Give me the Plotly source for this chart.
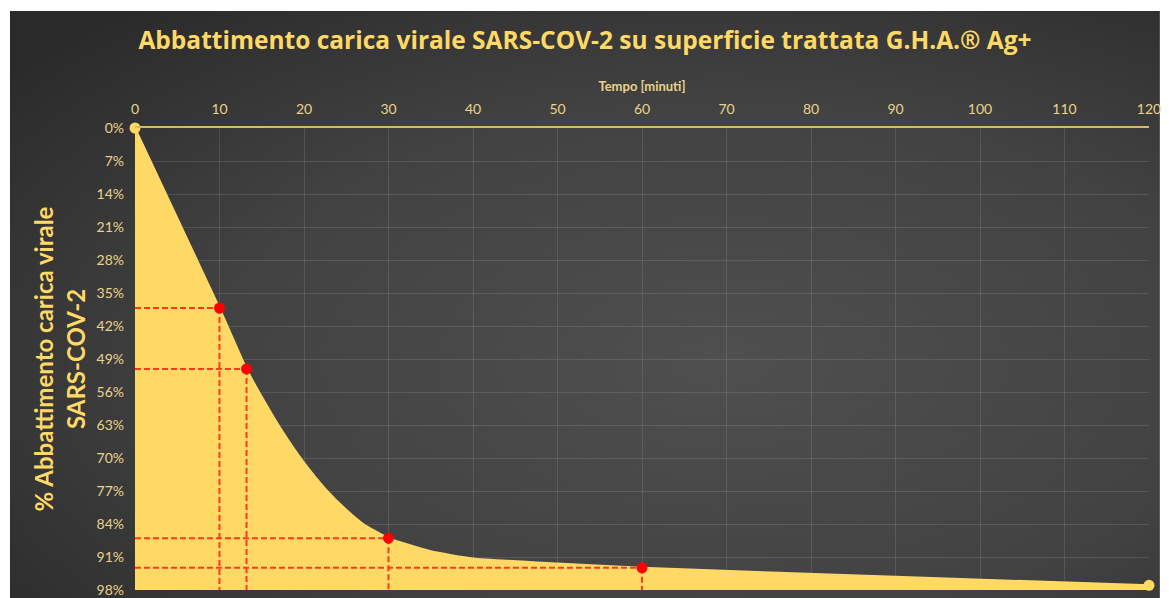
import plotly.graph_objects as go

# ---------------- data ----------------
curve_x = [0, 10, 13.2, 15, 17.5, 20, 22.5, 25, 27, 30, 35, 40, 50, 60, 90, 120]
curve_y = [0, 38.2, 51.1, 57, 64.5, 71, 76.5, 81, 84, 87, 89.8, 91.3, 92.4, 93.3, 95.2, 97]

red_x = [10, 13.2, 30, 60]
red_y = [38.2, 51.1, 87, 93.3]

end_x = [0, 120]
end_y = [0, 97]

x_ticks = list(range(0, 121, 10))
y_ticks = list(range(0, 99, 7))
y_labels = [f"{v}%" for v in y_ticks]
y_bottom = 98

title_text = "Abbattimento carica virale SARS-COV-2 su superficie trattata G.H.A.® Ag+"
x_title = "Tempo [minuti]"
y_title = "% Abbattimento carica virale<br>SARS-COV-2"

GOLD = "#FFD966"
LABEL = "#E9D38C"
RED = "#FF0000"
DASH = "#FF3B1F"
FONT = "Lato, Open Sans, sans-serif"

fig = go.Figure()

# baseline for fill
fig.add_trace(go.Scatter(x=[curve_x[0], curve_x[-1]], y=[y_bottom, y_bottom], mode="lines",
                         line=dict(width=0, color=GOLD), hoverinfo="skip", showlegend=False))
fig.add_trace(go.Scatter(x=curve_x, y=curve_y, mode="lines", fill="tonexty", fillcolor=GOLD,
                         line=dict(color=GOLD, width=2, shape="spline", smoothing=0.5),
                         showlegend=False))

# dashed guide lines
for xv, yv in zip(red_x, red_y):
    fig.add_trace(go.Scatter(x=[0, xv], y=[yv, yv], mode="lines",
                             line=dict(color=DASH, width=2, dash="6px,3px"),
                             showlegend=False, hoverinfo="skip"))
    fig.add_trace(go.Scatter(x=[xv, xv], y=[yv, y_bottom], mode="lines",
                             line=dict(color=DASH, width=2, dash="6px,3px"),
                             showlegend=False, hoverinfo="skip"))

fig.add_trace(go.Scatter(x=end_x, y=end_y, mode="markers",
                         marker=dict(color=GOLD, size=11), cliponaxis=False, showlegend=False))
fig.add_trace(go.Scatter(x=red_x, y=red_y, mode="markers",
                         marker=dict(color=RED, size=11), cliponaxis=False, showlegend=False))

# background gradient (SVG data URI)
svg = ("data:image/svg+xml;utf8,<svg xmlns='http://www.w3.org/2000/svg' width='1158' height='587'>"
       "<defs><radialGradient id='g' cx='0.62' cy='0.6' r='0.8'>"
       "<stop offset='0' stop-color='%234f4f4f'/><stop offset='0.55' stop-color='%23424242'/>"
       "<stop offset='1' stop-color='%232a2a2a'/>"
       "</radialGradient></defs><rect width='1158' height='587' fill='url(%23g)'/></svg>")

W, H = 1169, 598
L, R, T, B = 135, 13, 128, 8
pw, ph = W - L - R, H - T - B


def px(xp):
    return (xp - L) / pw


def py(yp):
    return (H - B - yp) / ph


fig.add_layout_image(dict(source=svg, xref="paper", yref="paper",
                          x=px(9), y=py(11), sizex=px(1167) - px(9), sizey=py(11) - py(598),
                          sizing="stretch", layer="below", xanchor="left", yanchor="top"))

fig.update_layout(
    width=W, height=H,
    margin=dict(l=L, r=R, t=T, b=B),
    paper_bgcolor="white",
    plot_bgcolor="rgba(0,0,0,0)",
    title=dict(text=f"<b>{title_text}</b>", x=585 / W, xref="container", xanchor="center",
               y=1 - 40 / H, yref="container", yanchor="middle",
               font=dict(family="Open Sans", size=24.5, color=GOLD)),
    font=dict(family=FONT, color=LABEL, size=14),
    xaxis=dict(range=[0, 120], side="top", tickvals=x_ticks, ticks="",
               showgrid=True, gridcolor="rgba(255,255,255,0.11)", gridwidth=1,
               showline=True, linecolor="#D4BC62", linewidth=2, zeroline=False,
               tickfont=dict(size=14, color=LABEL), ticklabelstandoff=6,
               title=dict(text=f"<b>{x_title}</b>", font=dict(size=13, color=LABEL), standoff=6)),
    yaxis=dict(range=[y_bottom, 0], tickvals=y_ticks, ticktext=y_labels, ticks="",
               showgrid=True, gridcolor="rgba(255,255,255,0.11)", gridwidth=1,
               zeroline=False, showline=False, automargin=False,
               tickfont=dict(size=14, color=LABEL), ticklabelstandoff=10,
               title=dict(text=f"<b>{y_title}</b>", font=dict(family="Lato", size=24, color=GOLD),
                          standoff=4)),
)

fig.write_html("out.html", config={"displayModeBar": False},
               post_script="document.body.style.margin='0';document.documentElement.style.overflow='hidden';")
